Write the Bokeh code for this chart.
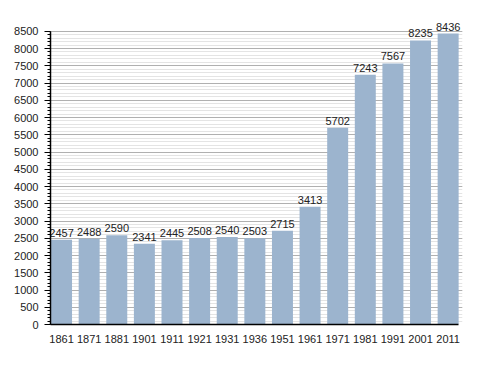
from bokeh.plotting import figure
from bokeh.models import Range1d, FixedTicker, SingleIntervalTicker, ColumnDataSource
from bokeh.core.properties import value
from bokeh.embed import file_html
from bokeh.resources import INLINE

years = ["1861", "1871", "1881", "1901", "1911", "1921", "1931", "1936",
         "1951", "1961", "1971", "1981", "1991", "2001", "2011"]
population = [2457, 2488, 2590, 2341, 2445, 2508, 2540, 2503,
              2715, 3413, 5702, 7243, 7567, 8235, 8436]

xs = list(range(len(years)))
src = ColumnDataSource(dict(x=xs, top=population,
                            label=[str(v) for v in population]))

p = figure(frame_width=412, frame_height=307,
           min_border_left=50, min_border_top=17,
           min_border_right=18, min_border_bottom=40,
           x_range=Range1d(-0.4, 14.52), y_range=Range1d(0, 8900),
           output_backend="svg", toolbar_location=None,
           background_fill_color="white", border_fill_color="white")
p.outline_line_color = None

p.vbar(x="x", top="top", width=0.76, bottom=0, source=src,
       fill_color="#9cb4ce", line_color=None)
p.text(x="x", y="top", text="label", source=src,
       text_align="center", text_baseline="bottom", y_offset=-3,
       text_font=value("Liberation Sans"), text_font_size="11px",
       text_color="#222222")

p.xaxis.ticker = FixedTicker(ticks=xs)
p.xaxis.major_label_overrides = {i: y for i, y in zip(xs, years)}
p.xaxis.bounds = (-0.4, 14.38)
p.xaxis.major_tick_line_color = None
p.xaxis.minor_tick_line_color = None
p.xaxis.axis_line_color = "black"
p.xaxis.axis_line_width = 1.5
p.xaxis.major_label_standoff = 4
p.xaxis.major_label_text_font = "Liberation Sans"
p.xaxis.major_label_text_font_size = "11px"
p.xaxis.major_label_text_color = "#222222"
p.xgrid.grid_line_color = None

p.yaxis.ticker = SingleIntervalTicker(interval=500, num_minor_ticks=5)
p.yaxis.bounds = (0, 8500)
p.yaxis.axis_line_color = "black"
p.yaxis.axis_line_width = 1.5
p.yaxis.major_tick_line_color = "black"
p.yaxis.major_tick_out = 6
p.yaxis.major_tick_in = 0
p.yaxis.minor_tick_line_color = "black"
p.yaxis.minor_tick_out = 3
p.yaxis.minor_tick_in = 0
p.yaxis.major_label_standoff = 6
p.yaxis.major_label_text_font = "Liberation Sans"
p.yaxis.major_label_text_font_size = "11px"
p.yaxis.major_label_text_color = "#222222"

p.ygrid.bounds = (0, 8500)
p.ygrid.grid_line_color = "#b0b0b0"
p.ygrid.grid_line_width = 1
p.ygrid.minor_grid_line_color = "#e4e4e4"
p.ygrid.minor_grid_line_width = 1

open("out.html", "w").write(file_html(p, INLINE))
